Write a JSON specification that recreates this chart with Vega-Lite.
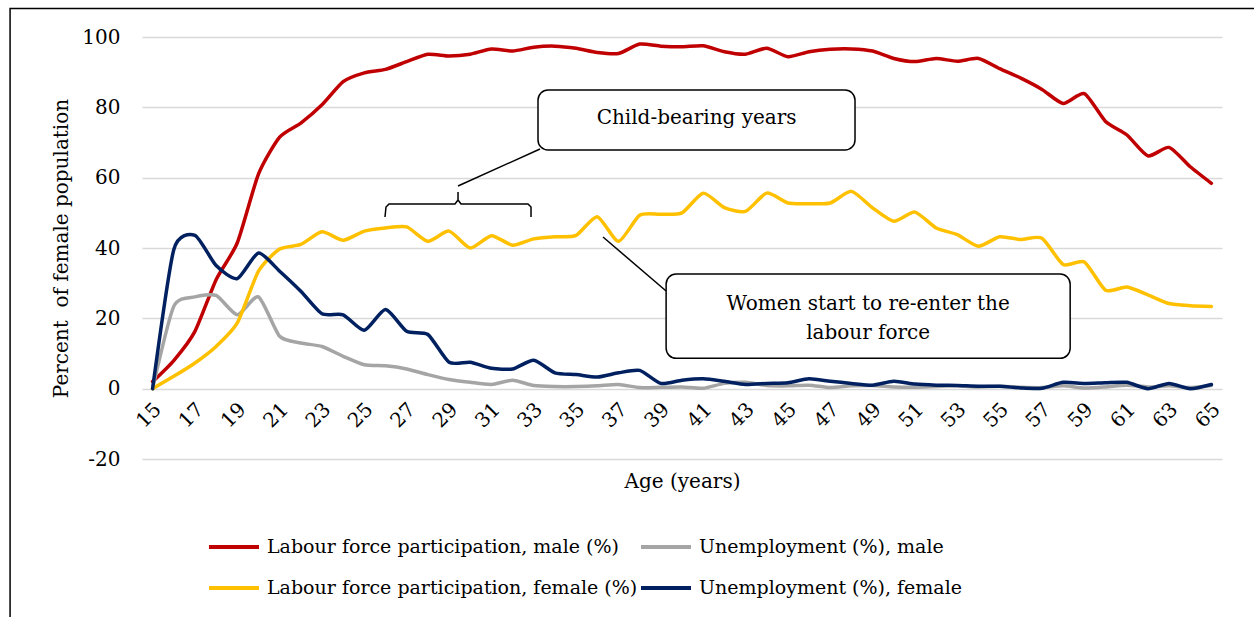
{
  "$schema": "https://vega.github.io/schema/vega-lite/v6.json",
  "width": 1080,
  "height": 422,
  "autosize": {"type": "none"},
  "padding": {"left": 142, "top": 37, "right": 32, "bottom": 158},
  "background": "white",
  "config": {
    "font": "DejaVu Serif",
    "view": {"stroke": null},
    "axis": {"labelFont": "DejaVu Serif", "titleFont": "DejaVu Serif", "labelColor": "#000000", "titleColor": "#000000", "labelFontSize": 20, "titleFontSize": 20, "titleFontWeight": "normal"},
    "legend": {"labelFont": "DejaVu Serif", "labelColor": "#000000", "labelFontSize": 19}
  },
  "datasets": {
    "series": [
      {"a":15,"m":2,"um":0,"f":0,"uf":0},
      {"a":16,"m":8,"um":23.4,"f":3.5,"uf":39.5},
      {"a":17,"m":16.3,"um":26.1,"f":7.3,"uf":43.6},
      {"a":18,"m":31,"um":26.5,"f":12,"uf":35},
      {"a":19,"m":41.5,"um":21,"f":18.7,"uf":31.3},
      {"a":20,"m":61,"um":26.1,"f":33.4,"uf":38.6},
      {"a":21,"m":71.5,"um":14.9,"f":39.7,"uf":33.4},
      {"a":22,"m":75.5,"um":13,"f":41,"uf":27.7},
      {"a":23,"m":80.7,"um":12,"f":44.6,"uf":21.3},
      {"a":24,"m":87.3,"um":9.2,"f":42.2,"uf":21},
      {"a":25,"m":89.8,"um":6.8,"f":44.8,"uf":16.6},
      {"a":26,"m":90.8,"um":6.5,"f":45.7,"uf":22.5},
      {"a":27,"m":93,"um":5.6,"f":46,"uf":16.3},
      {"a":28,"m":95.1,"um":4,"f":41.9,"uf":15.4},
      {"a":29,"m":94.6,"um":2.6,"f":44.8,"uf":7.5},
      {"a":30,"m":95.1,"um":1.8,"f":40,"uf":7.5},
      {"a":31,"m":96.6,"um":1.2,"f":43.5,"uf":5.8},
      {"a":32,"m":96,"um":2.4,"f":40.8,"uf":5.6},
      {"a":33,"m":97.1,"um":0.9,"f":42.6,"uf":8.1},
      {"a":34,"m":97.4,"um":0.6,"f":43.2,"uf":4.5},
      {"a":35,"m":96.8,"um":0.6,"f":43.6,"uf":4},
      {"a":36,"m":95.6,"um":0.8,"f":48.9,"uf":3.3},
      {"a":37,"m":95.3,"um":1.2,"f":41.9,"uf":4.5},
      {"a":38,"m":98,"um":0.3,"f":49.3,"uf":5.2},
      {"a":39,"m":97.4,"um":0.4,"f":49.6,"uf":1.5},
      {"a":40,"m":97.2,"um":0.5,"f":50,"uf":2.4},
      {"a":41,"m":97.5,"um":0.1,"f":55.6,"uf":2.8},
      {"a":42,"m":95.8,"um":1.5,"f":51.5,"uf":2.1},
      {"a":43,"m":95.1,"um":1.8,"f":50.4,"uf":1.2},
      {"a":44,"m":96.8,"um":0.9,"f":55.6,"uf":1.5},
      {"a":45,"m":94.4,"um":0.8,"f":52.8,"uf":1.7},
      {"a":46,"m":95.8,"um":1,"f":52.6,"uf":2.8},
      {"a":47,"m":96.5,"um":0.3,"f":52.8,"uf":2.1},
      {"a":48,"m":96.6,"um":0.8,"f":56.1,"uf":1.5},
      {"a":49,"m":96,"um":0.9,"f":51.4,"uf":1},
      {"a":50,"m":93.9,"um":0.5,"f":47.6,"uf":2.1},
      {"a":51,"m":93,"um":0.4,"f":50.2,"uf":1.3},
      {"a":52,"m":93.9,"um":0.6,"f":45.7,"uf":1},
      {"a":53,"m":93.1,"um":0.8,"f":43.8,"uf":0.9},
      {"a":54,"m":93.9,"um":0.5,"f":40.5,"uf":0.7},
      {"a":55,"m":91,"um":0.7,"f":43.2,"uf":0.7},
      {"a":56,"m":88.3,"um":0.4,"f":42.4,"uf":0.2},
      {"a":57,"m":85.1,"um":0.3,"f":42.8,"uf":0.1},
      {"a":58,"m":81.1,"um":0.8,"f":35.3,"uf":1.8},
      {"a":59,"m":83.9,"um":0.2,"f":36,"uf":1.5},
      {"a":60,"m":76,"um":0.5,"f":28,"uf":1.7},
      {"a":61,"m":72.2,"um":1,"f":28.9,"uf":1.8},
      {"a":62,"m":66.2,"um":0.5,"f":26.7,"uf":0},
      {"a":63,"m":68.6,"um":0.8,"f":24.2,"uf":1.5},
      {"a":64,"m":63.1,"um":0.3,"f":23.6,"uf":0},
      {"a":65,"m":58.4,"um":0.9,"f":23.4,"uf":1.2}
    ],
    "boxes": [
      {"x1": 33.2, "x2": 48.17, "y1": 67.87, "y2": 84.93},
      {"x1": 39.25, "x2": 58.33, "y1": 8.63, "y2": 32.61}
    ],
    "frame": [
      {"x1": 8.27, "x2": 68.5, "y1": -75, "y2": 108.1}
    ],
    "labels": [
      {"x": 40.69, "y": 76.9, "t": ["Child-bearing years"]},
      {"x": 48.79, "y": 24.2, "t": ["Women start to re-enter the", "labour force"]}
    ],
    "ann": [
      {"g":"brace","o":1,"x":25.975,"y":48.815},
      {"g":"brace","o":2,"x":26.022,"y":51.66},
      {"g":"brace","o":3,"x":26.164,"y":52.51},
      {"g":"brace","o":4,"x":29.281,"y":52.51},
      {"g":"brace","o":5,"x":29.423,"y":53.65},
      {"g":"brace","o":6,"x":29.423,"y":55.92},
      {"g":"brace","o":7,"x":29.423,"y":53.65},
      {"g":"brace","o":8,"x":29.564,"y":52.51},
      {"g":"brace","o":9,"x":32.728,"y":52.51},
      {"g":"brace","o":10,"x":32.87,"y":51.66},
      {"g":"brace","o":11,"x":32.87,"y":48.815},
      {"g":"c1","o":1,"x":29.423,"y":57.63},
      {"g":"c1","o":2,"x":33.295,"y":68.15},
      {"g":"c2","o":1,"x":36.27,"y":43.13},
      {"g":"c2","o":2,"x":39.25,"y":27.77}
    ]
  },
  "layer": [
    {
      "data": {"name": "frame"},
      "mark": {"type": "rect", "fill": null, "stroke": "#000000", "strokeWidth": 1.5, "clip": false},
      "encoding": {
        "x": {"field": "x1", "type": "quantitative", "scale": {"domain": [14.5, 65.5], "nice": false, "zero": false}},
        "x2": {"field": "x2"},
        "y": {"field": "y1", "type": "quantitative", "scale": {"domain": [-20, 100], "nice": false, "zero": false}},
        "y2": {"field": "y2"}
      }
    },
    {
      "data": {"name": "series"},
      "transform": [{"fold": ["m", "um", "f", "uf"], "as": ["s", "v"]}],
      "mark": {"type": "line", "interpolate": "cardinal", "tension": 0.35, "strokeWidth": 3.5, "strokeCap": "round"},
      "encoding": {
        "x": {
          "field": "a", "type": "quantitative",
          "scale": {"domain": [14.5, 65.5], "nice": false, "zero": false},
          "axis": {
            "values": [15,17,19,21,23,25,27,29,31,33,35,37,39,41,43,45,47,49,51,53,55,57,59,61,63,65],
            "grid": false, "domain": false, "ticks": false, "offset": -70,
            "labelAngle": -45, "labelAlign": "right", "labelBaseline": "middle", "labelPadding": 17, "labelOffset": 5,
            "labelFlush": false, "labelOverlap": false,
            "title": "Age (years)", "titleY": 92, "titleBaseline": "middle"
          }
        },
        "y": {
          "field": "v", "type": "quantitative",
          "scale": {"domain": [-20, 100], "nice": false, "zero": false},
          "axis": {
            "values": [-20, 0, 20, 40, 60, 80, 100],
            "labelExpr": "'' + datum.value",
            "grid": true, "gridColor": "#D9D9D9", "gridWidth": 1.5, "domain": false, "ticks": false,
            "labelPadding": 22, "title": "Percent\u00a0 of female population", "titlePadding": 10
          }
        },
        "color": {
          "field": "s", "type": "nominal",
          "scale": {"domain": ["m", "f", "um", "uf"], "range": ["#C00000", "#FFC000", "#A5A5A5", "#002060"]},
          "legend": {
            "orient": "none", "legendX": 65, "legendY": 483, "columns": 2, "title": null,
            "symbolType": "stroke", "symbolSize": 2500, "symbolStrokeWidth": 4,
            "columnPadding": -5, "rowPadding": 4, "labelOffset": 6, "labelLimit": 500,
            "labelExpr": "datum.value == 'm' ? 'Labour force participation, male (%)' : datum.value == 'um' ? 'Unemployment (%), male' : datum.value == 'f' ? 'Labour force participation, female (%)' : 'Unemployment (%), female'"
          }
        }
      }
    },
    {
      "data": {"name": "ann"},
      "mark": {"type": "line", "color": "#000000", "strokeWidth": 1.5, "clip": false},
      "encoding": {
        "x": {"field": "x", "type": "quantitative"},
        "y": {"field": "y", "type": "quantitative"},
        "detail": {"field": "g"},
        "order": {"field": "o"}
      }
    },
    {
      "data": {"name": "boxes"},
      "mark": {"type": "rect", "fill": "white", "stroke": "#000000", "strokeWidth": 1.5, "cornerRadius": 10},
      "encoding": {
        "x": {"field": "x1", "type": "quantitative"},
        "x2": {"field": "x2"},
        "y": {"field": "y1", "type": "quantitative"},
        "y2": {"field": "y2"}
      }
    },
    {
      "data": {"name": "labels"},
      "mark": {"type": "text", "font": "DejaVu Serif", "fontSize": 20, "color": "#000000", "align": "center", "baseline": "middle", "lineHeight": 29},
      "encoding": {
        "x": {"field": "x", "type": "quantitative"},
        "y": {"field": "y", "type": "quantitative"},
        "text": {"field": "t"}
      }
    }
  ]
}
